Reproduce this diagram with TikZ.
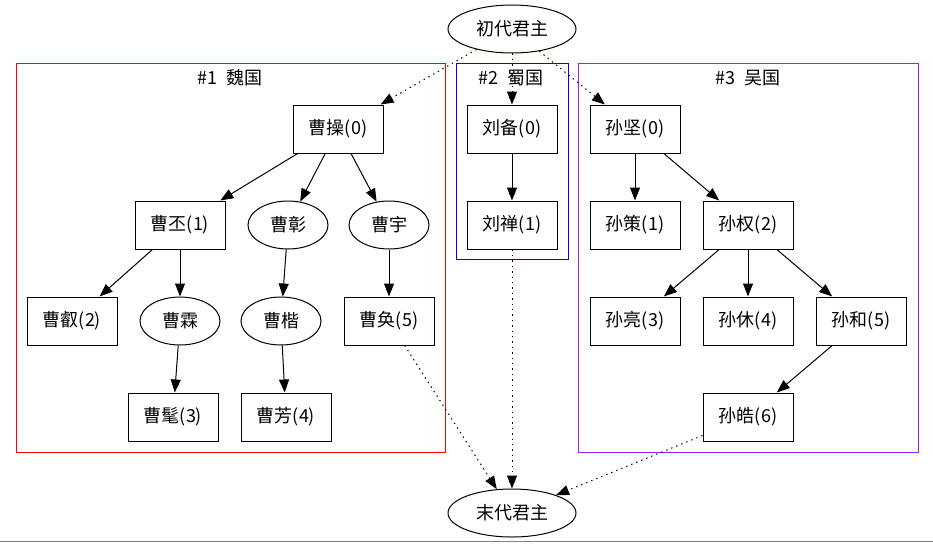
\documentclass[tikz,border=0pt]{standalone}
\usepackage{fontspec}
\setmainfont{Noto Sans CJK SC}
\usetikzlibrary{arrows.meta,shapes.geometric}
\definecolor{wupurple}{RGB}{160,32,240}
\tikzset{
  lbl/.style={font=\fontsize{18}{21}\selectfont},
  box/.style={lbl, draw, rectangle, line width=1pt, minimum width=90pt, minimum height=48pt, inner sep=0pt},
  oval/.style={lbl, draw, ellipse, line width=1pt, minimum width=80pt, minimum height=48pt, inner sep=0pt},
  bigoval/.style={oval, minimum width=128pt},
  edge/.style={-{Triangle[length=13pt,width=10pt]}, line width=1pt},
  dotedge/.style={edge, dash pattern=on 1.4pt off 4pt},
  cluster/.style={draw, line width=1pt},
}
\begin{document}
\begin{tikzpicture}[x=1pt,y=-1pt]
\useasboundingbox (0,0) rectangle (933,543);
% clusters
\draw[cluster, red] (16,63) rectangle (445,452);
\node[lbl] (lab1) at (230,78) {\#1\ \ 魏国};
\draw[cluster, blue] (456,63) rectangle (568,259);
\node[lbl] (lab2) at (511,78) {\#2\ \ 蜀国};
\draw[cluster, wupurple] (578,63) rectangle (918,452);
\node[lbl] (lab3) at (748,78) {\#3\ \ 吴国};
% top / bottom
\node[bigoval] (first) at (512,29) {初代君主};
\node[bigoval] (last) at (512,513) {末代君主};
% Wei
\node[box] (cc) at (338,129) {曹操(0)};
\node[box] (cp) at (180,225) {曹丕(1)};
\node[oval] (cz) at (288,225) {曹彰};
\node[oval] (cy) at (389,225) {曹宇};
\node[box] (cr) at (72,321) {曹叡(2)};
\node[oval] (cl) at (180,321) {曹霖};
\node[oval] (ck) at (281,321) {曹楷};
\node[box] (ch) at (389,321) {曹奂(5)};
\node[box] (cm) at (173,417) {曹髦(3)};
\node[box] (cf) at (286,417) {曹芳(4)};
% Shu
\node[box] (lb) at (512,129) {刘备(0)};
\node[box] (ls) at (512,225) {刘禅(1)};
% Wu
\node[box] (sj) at (635,129) {孙坚(0)};
\node[box] (sc) at (635,225) {孙策(1)};
\node[box] (sq) at (748,225) {孙权(2)};
\node[box] (sl) at (635,321) {孙亮(3)};
\node[box] (sx) at (748,321) {孙休(4)};
\node[box] (sh) at (861,321) {孙和(5)};
\node[box] (shao) at (748,417) {孙皓(6)};
% solid edges
\draw[edge] (cc) -- (cp);
\draw[edge] (cc) -- (cz);
\draw[edge] (cc) -- (cy);
\draw[edge] (cp) -- (cr);
\draw[edge] (cp) -- (cl);
\draw[edge] (cz) -- (ck);
\draw[edge] (cy) -- (ch);
\draw[edge] (cl) -- (cm);
\draw[edge] (ck) -- (cf);
\draw[edge] (lb) -- (ls);
\draw[edge] (sj) -- (sc);
\draw[edge] (sj) -- (sq);
\draw[edge] (sq) -- (sl);
\draw[edge] (sq) -- (sx);
\draw[edge] (sq) -- (sh);
\draw[edge] (sh) -- (shao);
% dotted edges
\draw[dotedge] (first) -- (cc);
\draw[dotedge] (first) -- (lb);
\draw[dotedge] (first) -- (sj);
\draw[dotedge] (ch) -- (last);
\draw[dotedge] (ls) -- (last);
\draw[dotedge] (shao) -- (last);
% bottom rule
\draw[gray, line width=1.2pt] (0,541.6) -- (933,541.6);
\end{tikzpicture}
\end{document}
